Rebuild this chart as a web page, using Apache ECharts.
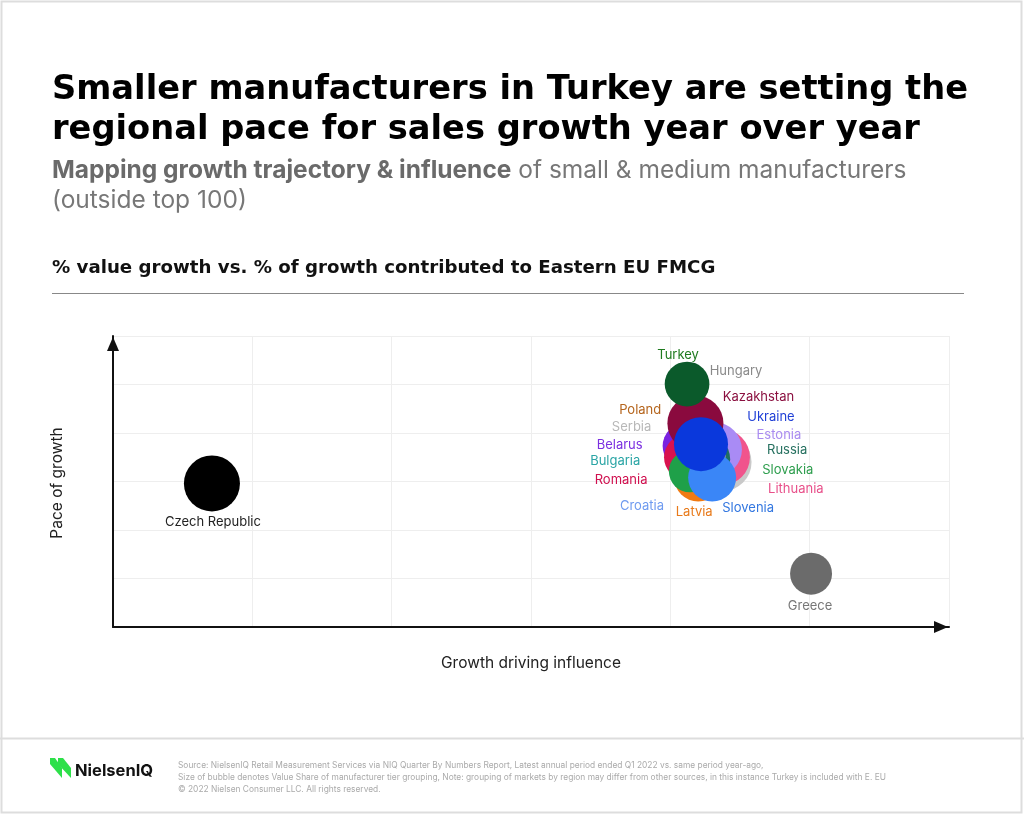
<!DOCTYPE html>
<html><head><meta charset="utf-8">
<script src="https://cdn.jsdelivr.net/npm/echarts@6/dist/echarts.min.js"></script>
<style>html,body{margin:0;padding:0;background:#fff}#c{width:1024px;height:814px}</style>
</head><body><div id="c"></div>
<script>
// Data (draw order: back to front)
const countries = ['Serbia','Lithuania','Estonia','Russia','Hungary','Poland','Bulgaria','Belarus','Romania','Croatia','Latvia','Slovakia','Slovenia','Kazakhstan','Ukraine','Turkey','Czech Republic','Greece'];
const influence = [4.375,4.37,4.32,4.25,4.22,4.20,4.15,4.11,4.12,4.22,4.20,4.14,4.30,4.18,4.22,4.12,0.71,5.01];
const pace      = [3.40,3.50,3.66,3.46,3.56,3.62,3.50,3.73,3.50,3.25,3.08,3.21,3.08,4.20,3.77,5.01,2.96,1.10];
const share     = [33.6,31.4,29.2,25,25,25,19.4,21.2,21.2,23,23,17.6,23,31.4,29.2,20,31.4,17.6];
const axisTicks = [0,1,2,3,4,5,6];

// Styles
const bubbleColors = ['#c9c9c9','#f0548c','#a98bf5','#1f6f62','#999999','#b35f1c','#22a9a9','#7a22e0','#d8124f','#6d9ff2','#f07a12','#1fa049','#3a86f7','#8a0a3e','#0a38dc','#0b5a2b','#000000','#6b6b6b'];
const labelColors  = ['#b8b8b8','#e8508a','#a98bf0','#25705f','#8a8a8a','#b5651d','#2aa5a5','#7b2fe0','#d0104f','#6f9bf0','#e87a1a','#2e9e4e','#3377e0','#8b1040','#1f3fd6','#1e7a1e','#222222','#777777'];
const labelOffsets = [[-91,-35],[74,32],[64,-14],[82,-9],[35,-83],[-58,-41],[-76,4],[-66,-1],[-66,23],[-59,37],[-4,34],[98,-1],[36,30],[63,-26],[70,-27],[-9,-29],[1,39],[-1,32]];

const data = countries.map((n, i) => ({
  name: n,
  value: [influence[i], pace[i], share[i]],
  itemStyle: { color: bubbleColors[i], opacity: 1 },
  label: { show: true, position: 'inside', offset: labelOffsets[i], color: labelColors[i] }
}));

const chart = echarts.init(document.getElementById('c'), null, { renderer: 'canvas' });
const F = 'Inter, "Noto Sans", sans-serif';
const D = '"DejaVu Sans", Inter, sans-serif';
const axisLineStyle = { show: true, lineStyle: { color: '#111', width: 2 }, symbol: ['none','triangle'], symbolSize: [12, 14], symbolOffset: [0, -8] };
chart.setOption({
  animation: false,
  backgroundColor: '#fff',
  grid: { left: 113, right: 75, top: 336, bottom: 187 },
  xAxis: {
    type: 'value', min: axisTicks[0], max: axisTicks[axisTicks.length-1], interval: 1,
    axisLabel: { show: false }, axisTick: { show: false },
    splitLine: { show: true, lineStyle: { color: '#eeeeee', width: 1 } },
    axisLine: axisLineStyle
  },
  yAxis: {
    type: 'value', min: axisTicks[0], max: axisTicks[axisTicks.length-1], interval: 1,
    axisLabel: { show: false }, axisTick: { show: false },
    splitLine: { show: true, lineStyle: { color: '#eeeeee', width: 1 } },
    axisLine: axisLineStyle
  },
  series: [{
    type: 'scatter',
    data: data,
    symbolSize: v => 10 * Math.sqrt(v[2]),
    label: { fontFamily: F, fontSize: 13, formatter: '{b}', align: 'center', verticalAlign: 'middle' },
    emphasis: { disabled: true }
  }],
  graphic: [
    { type: 'rect', silent: true, shape: { x: 1.5, y: 1.5, width: 1020, height: 811 }, style: { fill: 'none', stroke: '#dddddd', lineWidth: 2 } },
    { type: 'text', left: 52, top: 70, style: { text: 'Smaller manufacturers in Turkey are setting the\nregional pace for sales growth year over year', font: '700 33.7px ' + D, fill: '#000', lineHeight: 40 } },
    { type: 'text', left: 52, top: 156, style: {
        text: '{b|Mapping growth trajectory & influence} of small & medium manufacturers\n(outside top 100)',
        font: '400 24.5px ' + F, fill: '#777', lineHeight: 30,
        rich: { b: { font: '700 24.5px ' + F, fill: '#6a6a6a', lineHeight: 30 } } } },
    { type: 'text', left: 52, top: 259, style: { text: '% value growth vs. % of growth contributed to Eastern EU FMCG', font: '700 18.2px ' + D, fill: '#111' } },
    { type: 'line', shape: { x1: 52, y1: 293.5, x2: 964, y2: 293.5 }, style: { stroke: '#888', lineWidth: 1 } },
    { type: 'text', x: 531, y: 663, style: { text: 'Growth driving influence', font: '400 15.5px ' + F, fill: '#222', align: 'center', verticalAlign: 'middle' } },
    { type: 'text', x: 57, y: 483, rotation: Math.PI / 2, style: { text: 'Pace of growth', font: '400 15.5px ' + F, fill: '#222', align: 'center', verticalAlign: 'middle' } },
    { type: 'line', shape: { x1: 0, y1: 738.5, x2: 1024, y2: 738.5 }, style: { stroke: '#dddddd', lineWidth: 2 } },
    { type: 'polygon', shape: { points: [[50,758],[55,758],[62,768],[62,778],[50,764]] }, style: { fill: '#2ee04a' } },
    { type: 'polygon', shape: { points: [[58,758],[63,758],[71,768],[71,778],[58,764]] }, style: { fill: '#2ee04a' } },
    { type: 'text', left: 75, top: 763, style: { text: 'NielsenIQ', font: '700 16.5px ' + F, fill: '#111' } },
    { type: 'text', left: 178, top: 759, style: {
        text: 'Source: NielsenIQ Retail Measurement Services via NIQ Quarter By Numbers Report, Latest annual period ended Q1 2022 vs. same period year-ago,\nSize of bubble denotes Value Share of manufacturer tier grouping, Note: grouping of markets by region may differ from other sources, in this instance Turkey is included with E. EU\n© 2022 Nielsen Consumer LLC. All rights reserved.',
        font: '400 8.4px ' + F, fill: '#aaaaaa', lineHeight: 12 } }
  ]
});
</script>
</body></html>
